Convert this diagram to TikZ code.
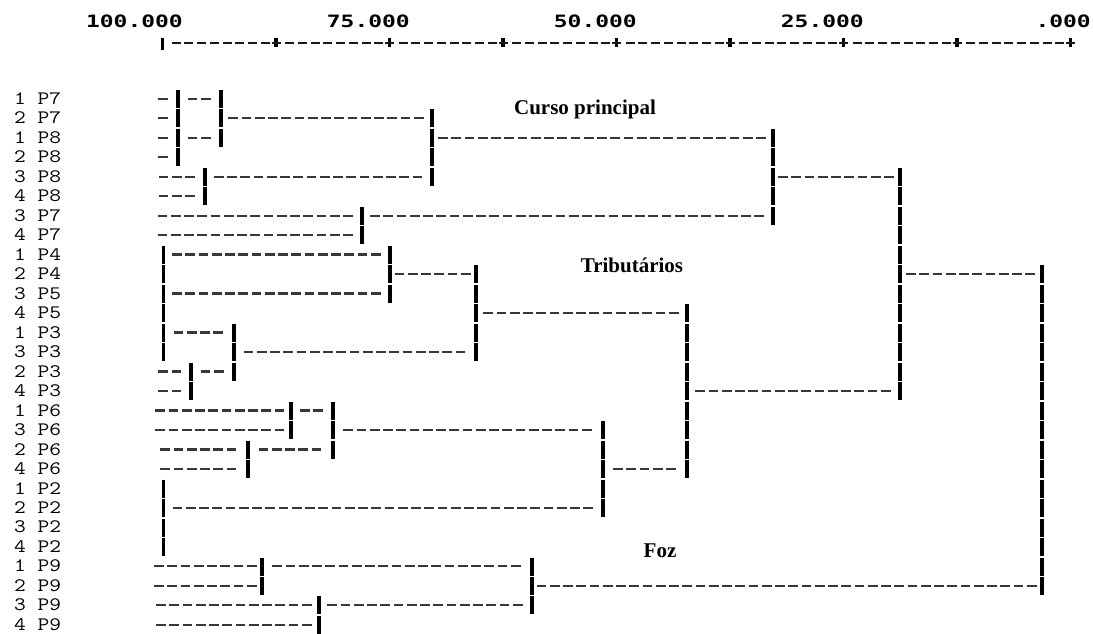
\documentclass[tikz,border=0pt]{standalone}
\usepackage{fontspec}
\usepackage{graphicx}
\newfontfamily\axfont{DejaVu Sans Mono}
\newfontfamily\ttlfont{Liberation Serif}
% horizontal dashed run: start x, end x, row
\newcommand\hrun[3]{%
 \pgfmathsetmacro\hrS{#1}%
 \pgfmathsetmacro\hrL{(#2)-(#1)}%
 \pgfmathsetmacro\hrY{98.8+19.48*(#3)}%
 \pgfmathtruncatemacro\hrN{max(1,round((\hrL+3.5)/13.25))}%
 \pgfmathsetmacro\hrO{(\hrL-(\hrN*13.25-3.5))/2}%
 \foreach \i in {1,...,\hrN}{\draw[dsh] ({\hrS+\hrO+(\i-1)*13.25},\hrY) -- ++(9.75,0);}%
}
\newcommand\leafrun[2]{\hrun{157}{#1-8.5}{#2}}
\newcommand\linkrun[3]{\hrun{#1+7.5}{#2-8.5}{#3}}
\newcommand\vbarr[3]{\foreach \k in {#2,...,#3}{\draw[barline] (#1,{98.8+19.48*\k-8.8}) -- ++(0,18);}}
\begin{document}
\begin{tikzpicture}[x=1pt,y=-1pt,
  dsh/.style={line width=2.3pt,black!78},
  axdsh/.style={line width=2.5pt,black!90},
  barline/.style={line width=3.2pt,black},
  lbl/.style={anchor=base west,inner sep=0,font=\ttfamily\fontsize{19}{19}\selectfont},
  axlbl/.style={anchor=base east,inner sep=0,font=\axfont\bfseries\fontsize{17}{17}\selectfont},
  ttl/.style={anchor=base,inner sep=0,font=\ttlfont\bfseries\fontsize{21}{21}\selectfont}]
\fill[white] (0,0) rectangle (1093,634);
\useasboundingbox (0,0) rectangle (1093,634);
% axis
\node[axlbl] (a100) at (183,28) {\scalebox{1.35}[1]{100.000}};
\node[axlbl] (a75) at (410,28) {\scalebox{1.35}[1]{75.000}};
\node[axlbl] (a50) at (637,28) {\scalebox{1.35}[1]{50.000}};
\node[axlbl] (a25) at (864,28) {\scalebox{1.35}[1]{25.000}};
\node[axlbl] (a0) at (1091,28) {\scalebox{1.35}[1]{.000}};
\draw[barline] (162.5,38) -- (162.5,50);
\foreach \j in {1,...,8}{
  \draw[barline] ({162.5+113.5*\j},38.5) -- ++(0,9);
  \draw[axdsh] ({162.5+113.5*\j-4.5},43) -- ++(9,0);}
\foreach \j in {0,...,7}{\foreach \i in {0,...,7}{
  \draw[axdsh] ({162.5+113.5*\j+9.2+12.75*\i},43) -- ++(9,0);}}
% row labels
\foreach \t [count=\k from 0] in {1 P7,2 P7,1 P8,2 P8,3 P8,4 P8,3 P7,4 P7,1 P4,2 P4,3 P5,4 P5,1 P3,3 P3,2 P3,4 P3,1 P6,3 P6,2 P6,4 P6,1 P2,2 P2,3 P2,4 P2,1 P9,2 P9,3 P9,4 P9}
  \node[lbl] (r\k) at (14,{98.8+19.48*\k+5.6}) {\scalebox{1.2}[1]{\t}};
% group titles
\node[ttl] (cp) at (585,114) {Curso principal};
\node[ttl] (tr) at (632,272) {Tributários};
\node[ttl] (fz) at (660,557) {Foz};
% vertical bars
\vbarr{178}{0}{3}
\vbarr{221}{0}{2}
\vbarr{205}{4}{5}
\vbarr{432}{1}{4}
\vbarr{773}{2}{6}
\vbarr{362}{6}{7}
\vbarr{900}{4}{15}
\vbarr{1042}{9}{25}
\vbarr{163.5}{8}{13}
\vbarr{390}{8}{10}
\vbarr{476}{9}{13}
\vbarr{234}{12}{14}
\vbarr{191}{14}{15}
\vbarr{687}{11}{19}
\vbarr{291}{16}{17}
\vbarr{333}{16}{18}
\vbarr{248}{18}{19}
\vbarr{603}{17}{21}
\vbarr{163.5}{20}{23}
\vbarr{262}{24}{25}
\vbarr{319}{26}{27}
\vbarr{532}{24}{26}
% horizontal runs
\leafrun{178}{0} \linkrun{178}{221}{0}
\leafrun{178}{1} \linkrun{221}{432}{1}
\leafrun{178}{2} \linkrun{178}{221}{2} \linkrun{432}{773}{2}
\leafrun{178}{3}
\leafrun{205}{4} \linkrun{205}{432}{4} \linkrun{773}{900}{4}
\leafrun{205}{5}
\leafrun{362}{6} \linkrun{362}{773}{6}
\leafrun{362}{7}
\linkrun{163.5}{390}{8}
\linkrun{390}{476}{9} \linkrun{900}{1042}{9}
\linkrun{163.5}{390}{10}
\linkrun{476}{687}{11}
\linkrun{163.5}{234}{12}
\linkrun{234}{476}{13}
\leafrun{191}{14} \linkrun{191}{234}{14}
\leafrun{191}{15} \linkrun{687}{900}{15}
\leafrun{291}{16} \linkrun{291}{333}{16}
\leafrun{291}{17} \linkrun{333}{603}{17}
\leafrun{248}{18} \linkrun{248}{333}{18}
\leafrun{248}{19} \linkrun{603}{687}{19}
\linkrun{163.5}{603}{21}
\leafrun{262}{24} \linkrun{262}{532}{24}
\leafrun{262}{25} \linkrun{532}{1042}{25}
\leafrun{319}{26} \linkrun{319}{532}{26}
\leafrun{319}{27}
\end{tikzpicture}
\end{document}
